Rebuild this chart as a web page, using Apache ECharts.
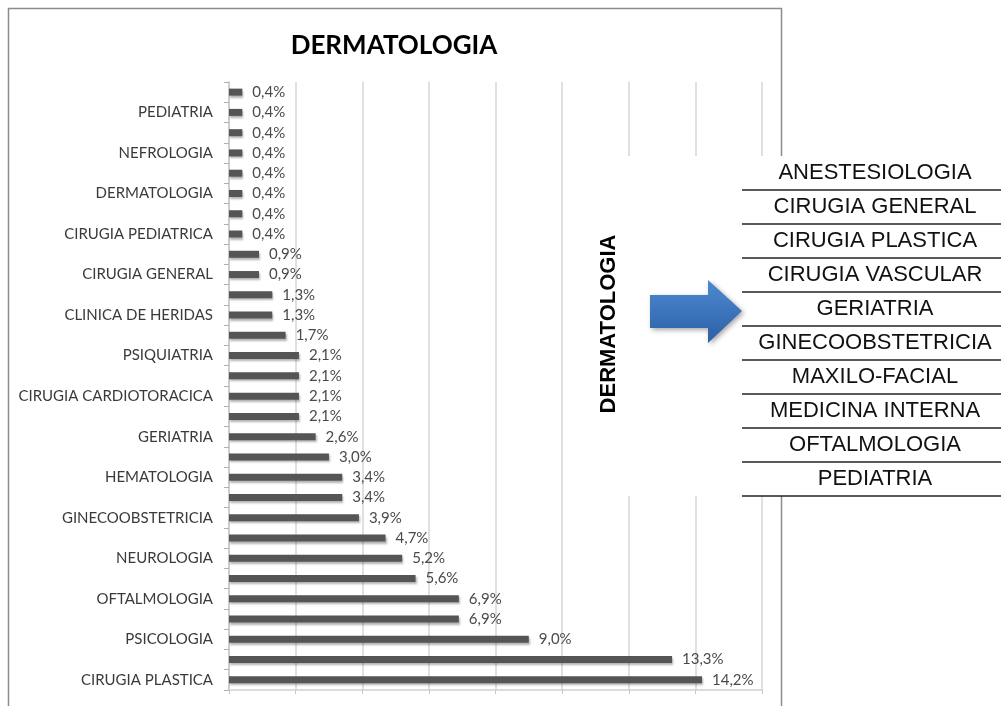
<!DOCTYPE html>
<html>
<head>
<meta charset="utf-8">
<script src="https://cdn.jsdelivr.net/npm/echarts@6/dist/echarts.min.js"></script>
<style>html,body{margin:0;padding:0;background:#fff}#c{width:1001px;height:706px}</style>
</head>
<body>
<div id="c"></div>
<script>
// Categories listed from bottom bar to top bar; unlabeled bars in the picture carry placeholder names (hidden)
const categories = [
  'CIRUGIA PLASTICA', 'SIN ETIQUETA 1', 'PSICOLOGIA', 'SIN ETIQUETA 2', 'OFTALMOLOGIA',
  'SIN ETIQUETA 3', 'NEUROLOGIA', 'SIN ETIQUETA 4', 'GINECOOBSTETRICIA', 'SIN ETIQUETA 5',
  'HEMATOLOGIA', 'SIN ETIQUETA 6', 'GERIATRIA', 'SIN ETIQUETA 7', 'CIRUGIA CARDIOTORACICA',
  'SIN ETIQUETA 8', 'PSIQUIATRIA', 'SIN ETIQUETA 9', 'CLINICA DE HERIDAS', 'SIN ETIQUETA 10',
  'CIRUGIA GENERAL', 'SIN ETIQUETA 11', 'CIRUGIA PEDIATRICA', 'SIN ETIQUETA 12', 'DERMATOLOGIA',
  'SIN ETIQUETA 13', 'NEFROLOGIA', 'SIN ETIQUETA 14', 'PEDIATRIA', 'SIN ETIQUETA 15'
];
const values = [
  14.2, 13.3, 9.0, 6.9, 6.9,
  5.6, 5.2, 4.7, 3.9, 3.4,
  3.4, 3.0, 2.6, 2.1, 2.1,
  2.1, 2.1, 1.7, 1.3, 1.3,
  0.9, 0.9, 0.4, 0.4, 0.4,
  0.4, 0.4, 0.4, 0.4, 0.4
];
const chartTitle = 'DERMATOLOGIA';
const sideLabel = 'DERMATOLOGIA';
const tableItems = [
  'ANESTESIOLOGIA', 'CIRUGIA GENERAL', 'CIRUGIA PLASTICA', 'CIRUGIA VASCULAR', 'GERIATRIA',
  'GINECOOBSTETRICIA', 'MAXILO-FACIAL', 'MEDICINA INTERNA', 'OFTALMOLOGIA', 'PEDIATRIA'
];

const chart = echarts.init(document.getElementById('c'));

const graphics = [];
// outer frame
graphics.push({type:'rect', z:1, silent:true,
  shape:{x:8.5, y:8.5, width:773, height:740},
  style:{fill:null, stroke:'#8c8c8c', lineWidth:1.5}});
// white overlay panel
graphics.push({type:'rect', z:60, silent:true,
  shape:{x:578, y:156, width:215, height:340},
  style:{fill:'#ffffff'}});
// rotated side label
graphics.push({type:'text', z:70, x:609, y:324, rotation:Math.PI/2,
  style:{text:sideLabel, fill:'#000', font:'bold 22px "Liberation Sans", Arial, sans-serif',
    align:'center', verticalAlign:'middle'}});
// arrow
graphics.push({type:'polygon', z:70,
  shape:{points:[[650,295],[708,295],[708,280],[742,311],[708,343],[708,328],[650,328]]},
  style:{fill:new echarts.graphic.LinearGradient(0,0,0,1,[{offset:0,color:'#4d8ad0'},{offset:1,color:'#2c5fa6'}]),
    shadowColor:'rgba(0,0,0,0.35)', shadowBlur:5, shadowOffsetX:2, shadowOffsetY:2}});
// table
tableItems.forEach((t, i) => {
  const lineY = 190 + i * 34.0;
  graphics.push({type:'text', z:70, x:875, y:lineY - 17,
    style:{text:t, fill:'#111', font:'22px "Liberation Sans", Arial, sans-serif',
      align:'center', verticalAlign:'middle'}});
  graphics.push({type:'line', z:70,
    shape:{x1:742, y1:lineY, x2:1001, y2:lineY},
    style:{stroke:'#222', lineWidth:1.6}});
});

chart.setOption({
  animation:false,
  title:{text:chartTitle, left:389, top:28, textAlign:'center',
    textStyle:{fontFamily:'Lato', fontWeight:'bold', fontSize:26, color:'#000'}},
  grid:{left:229, right:239, top:82, bottom:16, containLabel:false},
  xAxis:{type:'value', min:0, max:16, interval:2,
    axisLabel:{show:false},
    axisLine:{show:true, lineStyle:{color:'#d0d0d0', width:1.5}},
    axisTick:{show:true, length:4, lineStyle:{color:'#c8c8c8'}},
    splitLine:{show:true, lineStyle:{color:'#d6d6d6', width:1.5}}},
  yAxis:{type:'category', data:categories,
    axisLine:{show:true, lineStyle:{color:'#c8c8c8', width:1.5}},
    axisTick:{show:true, interval:0, length:5, lineStyle:{color:'#b0b0b0'}},
    axisLabel:{interval:1, margin:16, color:'#3a3a3a', fontFamily:'Lato', fontSize:15}},
  series:[{
    type:'bar', data:values, barWidth:7,
    itemStyle:{color:'#555555', shadowColor:'rgba(0,0,0,0.3)', shadowBlur:2, shadowOffsetX:1, shadowOffsetY:2},
    label:{show:true, position:'right', distance:10, color:'#4a4a4a', fontFamily:'Lato', fontSize:15,
      formatter:p => p.value.toFixed(1).replace('.', ',') + '%'}
  }],
  graphic:{elements:graphics}
});
</script>
</body>
</html>
